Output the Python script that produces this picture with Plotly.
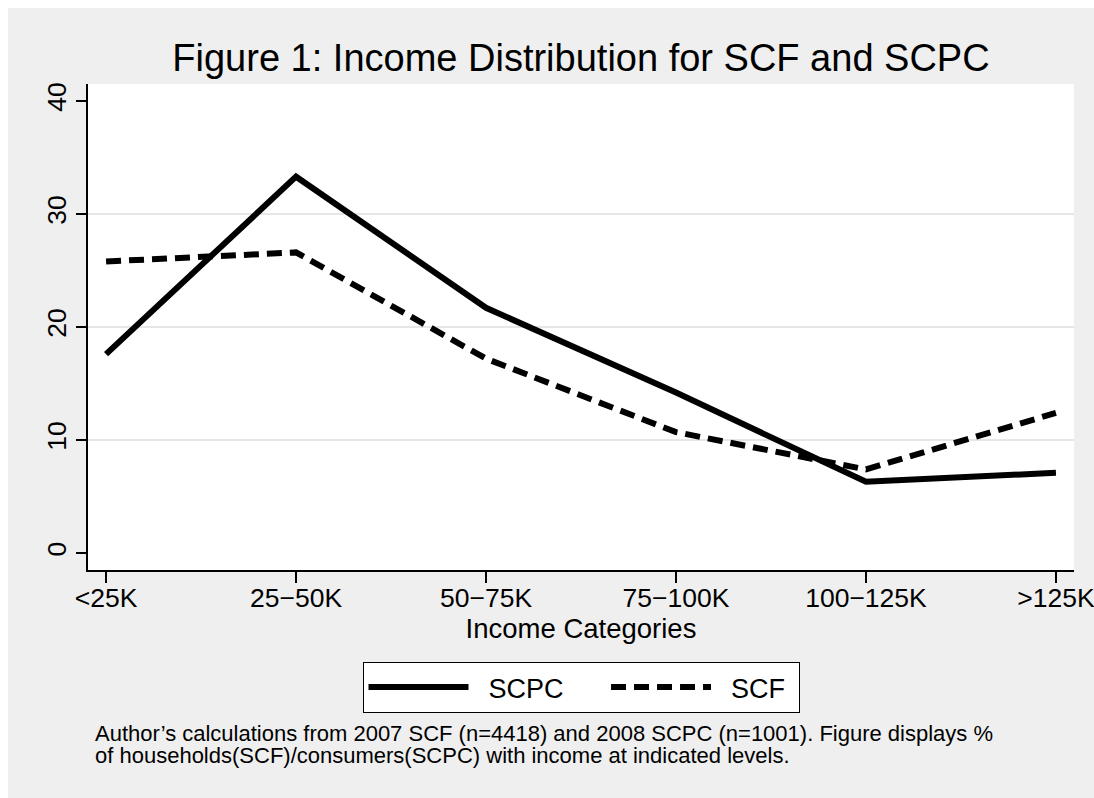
import plotly.graph_objects as go

categories = ["<25K", "25\u221250K", "50\u221275K", "75\u2212100K", "100\u2212125K", ">125K"]
scpc = [17.6, 33.3, 21.7, 14.2, 6.3, 7.1]
scf = [25.8, 26.6, 17.2, 10.7, 7.4, 12.4]
y_ticks = [0, 10, 20, 30, 40]
grid_values = [10, 20, 30]

W, H = 1094, 798
L, R, T, B = 88, 20, 84, 228
pw, ph = W - L - R, H - T - B

def px_x(p):
    return (p - L) / pw

def px_y(p):
    return (H - B - p) / ph

FONT = "Liberation Sans, Arial, Helvetica, sans-serif"
xpos = list(range(len(categories)))
NB = "\u00a0"

fig = go.Figure()
fig.add_trace(go.Scatter(x=xpos, y=scpc, mode="lines", name=NB * 2 + "SCPC" + NB * 5,
                         line=dict(color="black", width=6, dash="solid")))
fig.add_trace(go.Scatter(x=xpos, y=scf, mode="lines", name=NB * 2 + "SCF" + NB,
                         line=dict(color="black", width=6, dash="15px,8px")))

shapes = [
    dict(type="rect", xref="paper", yref="paper", x0=px_x(8), x1=px_x(W + 10),
         y0=px_y(H + 10), y1=px_y(8), fillcolor="#efefef", line=dict(width=0), layer="below"),
    dict(type="rect", xref="paper", yref="paper", x0=0, x1=1, y0=0, y1=1,
         fillcolor="white", line=dict(width=0), layer="below"),
]
for g in grid_values:
    shapes.append(dict(type="line", xref="paper", yref="y", x0=0, x1=1, y0=g, y1=g,
                       line=dict(color="#e6e6e6", width=2), layer="below"))

fig.update_layout(
    width=W, height=H,
    margin=dict(l=L, r=R, t=T, b=B, autoexpand=False),
    paper_bgcolor="white",
    plot_bgcolor="rgba(0,0,0,0)",
    font=dict(family=FONT, color="black", size=27),
    title=dict(text="Figure 1: Income Distribution for SCF and SCPC",
               x=581 / W, xanchor="center", y=1 - 58 / H, yanchor="middle",
               yref="container", font=dict(size=38, family=FONT)),
    xaxis=dict(range=[-0.095, 5.095], tickvals=xpos, ticktext=categories,
               automargin=False,
               showline=True, linecolor="black", linewidth=1.5, mirror=False,
               ticks="outside", ticklen=11, tickwidth=1.5, tickcolor="black",
               showgrid=False, zeroline=False, tickfont=dict(size=26.5),
               ticklabeloverflow="allow", ticklabelstandoff=-8,
               title=dict(text="Income Categories", font=dict(size=27.5), standoff=0)),
    yaxis=dict(range=[-1.5, 41.5], tickvals=y_ticks, tickangle=-90,
               automargin=False,
               showline=True, linecolor="black", linewidth=1.5,
               ticks="outside", ticklen=10, tickwidth=1.5, tickcolor="black",
               showgrid=False, zeroline=False, tickfont=dict(size=26.5)),
    legend=dict(orientation="h", x=0.5, xanchor="center",
                y=px_y(662), yanchor="top", bordercolor="black", borderwidth=1,
                bgcolor="white", font=dict(size=27), itemwidth=100),
    shapes=shapes,
    showlegend=True,
)

fig.add_annotation(text="Author\u2019s calculations from 2007 SCF (n=4418) and 2008 SCPC (n=1001). Figure displays %",
                   xref="paper", yref="paper", x=px_x(93), y=px_y(733.5), xanchor="left",
                   yanchor="middle", showarrow=False, font=dict(size=22, family=FONT), align="left")
fig.add_annotation(text="of households(SCF)/consumers(SCPC) with income at indicated levels.",
                   xref="paper", yref="paper", x=px_x(93), y=px_y(755.5), xanchor="left",
                   yanchor="middle", showarrow=False, font=dict(size=22, family=FONT), align="left")

fig.write_html(
    "out.html",
    config={"responsive": False, "displayModeBar": False},
    post_script=("document.body.style.margin='0px';"
                 "document.body.style.overflow='hidden';"
                 "document.documentElement.style.overflow='hidden';"),
)
